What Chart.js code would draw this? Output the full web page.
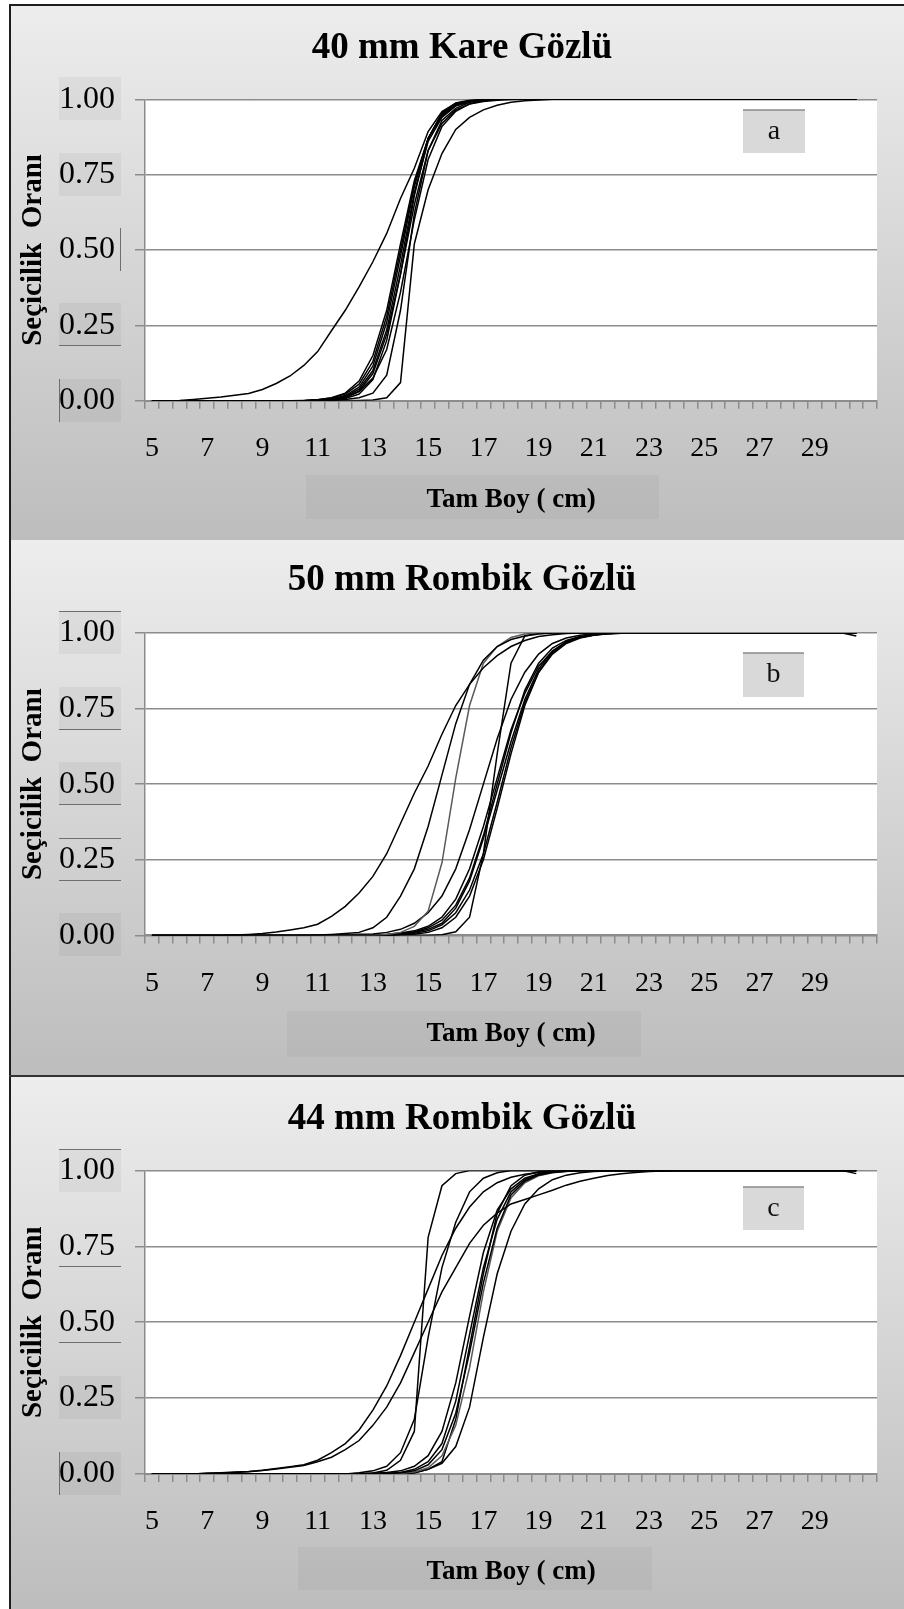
<!DOCTYPE html>
<html lang="tr">
<head>
<meta charset="utf-8">
<title>Seçicilik eğrileri</title>
<script src="https://cdn.jsdelivr.net/npm/chart.js@4.4.1/dist/chart.umd.min.js"></script>
<style>
  html, body { margin: 0; padding: 0; background: #fff; }
  #page { position: relative; width: 904px; height: 1609px; overflow: hidden; }
  .panel { position: absolute; left: 9px; width: 895px; background: linear-gradient(#ededed, #bdbdbd); }
  .rule { position: absolute; background: #1e1e1e; }
  canvas { position: absolute; left: 0; }
</style>
</head>
<body>
<div id="page">
  <div class="panel" style="top:5px;height:535px"></div>
  <div class="panel" style="top:540px;height:536px"></div>
  <div class="panel" style="top:1076px;height:533px"></div>
  <div class="rule" style="left:9px;top:4px;width:2px;height:1605px"></div>
  <div class="rule" style="left:9px;top:4px;width:895px;height:2px"></div>
  <div class="rule" style="left:9px;top:1075px;width:895px;height:2px;background:#333"></div>
  <canvas id="chartA" width="904" height="535" style="top:5px"></canvas>
  <canvas id="chartB" width="904" height="536" style="top:540px"></canvas>
  <canvas id="chartC" width="904" height="533" style="top:1076px"></canvas>
</div>
<script>
// length classes (cm), every half cm; the last one is an empty slot on the axis
const sizes = [5, 5.5, 6, 6.5, 7, 7.5, 8, 8.5, 9, 9.5, 10, 10.5, 11, 11.5, 12, 12.5, 13, 13.5,
  14, 14.5, 15, 15.5, 16, 16.5, 17, 17.5, 18, 18.5, 19, 19.5, 20, 20.5, 21, 21.5, 22, 22.5,
  23, 23.5, 24, 24.5, 25, 25.5, 26, 26.5, 27, 27.5, 28, 28.5, 29, 29.5, 30, 30.5, 31];
const tickLabels = [5, 7, 9, 11, 13, 15, 17, 19, 21, 23, 25, 27, 29];
const yTicks = [0, 0.25, 0.5, 0.75, 1];

// 40 mm kare göz: selectivity per length class (5 .. 30.5 cm)
const a1 = [0, 0, 0.001, 0.004, 0.008, 0.012, 0.018, 0.024, 0.037, 0.057, 0.082, 0.117, 0.163, 0.232,
  0.300, 0.378, 0.461, 0.555, 0.671, 0.771, 0.893, 0.959, 0.987, 0.994, 0.998, 1, 1, 1,
  1, 1, 1, 1, 1, 1, 1, 1, 1, 1, 1, 1, 1, 1,
  1, 1, 1, 1, 1, 1, 1, 1, 1, 1];
const a2 = [0, 0, 0, 0, 0, 0, 0, 0, 0, 0, 0, 0.001, 0.003, 0.01,
  0.025, 0.065, 0.15, 0.30, 0.52, 0.73, 0.87, 0.945, 0.98, 0.993, 0.998, 1, 1, 1,
  1, 1, 1, 1, 1, 1, 1, 1, 1, 1, 1, 1, 1, 1,
  1, 1, 1, 1, 1, 1, 1, 1, 1, 1];
const a3 = [0, 0, 0, 0, 0, 0, 0, 0, 0, 0, 0, 0, 0.003, 0.009,
  0.022, 0.055, 0.13, 0.28, 0.50, 0.72, 0.87, 0.95, 0.982, 0.994, 0.998, 1, 1, 1,
  1, 1, 1, 1, 1, 1, 1, 1, 1, 1, 1, 1, 1, 1,
  1, 1, 1, 1, 1, 1, 1, 1, 1, 1];
const a4 = [0, 0, 0, 0, 0, 0, 0, 0, 0, 0, 0, 0, 0.002, 0.006,
  0.017, 0.045, 0.115, 0.26, 0.48, 0.71, 0.87, 0.952, 0.985, 0.995, 1, 1, 1, 1,
  1, 1, 1, 1, 1, 1, 1, 1, 1, 1, 1, 1, 1, 1,
  1, 1, 1, 1, 1, 1, 1, 1, 1, 1];
const a5 = [0, 0, 0, 0, 0, 0, 0, 0, 0, 0, 0, 0, 0.002, 0.005,
  0.014, 0.038, 0.10, 0.235, 0.45, 0.69, 0.86, 0.94, 0.978, 0.992, 0.997, 1, 1, 1,
  1, 1, 1, 1, 1, 1, 1, 1, 1, 1, 1, 1, 1, 1,
  1, 1, 1, 1, 1, 1, 1, 1, 1, 1];
const a6 = [0, 0, 0, 0, 0, 0, 0, 0, 0, 0, 0, 0, 0.001, 0.004,
  0.011, 0.032, 0.09, 0.22, 0.42, 0.65, 0.83, 0.92, 0.965, 0.984, 0.993, 0.997, 0.999, 1,
  1, 1, 1, 1, 1, 1, 1, 1, 1, 1, 1, 1, 1, 1,
  1, 1, 1, 1, 1, 1, 1, 1, 1, 1];
const a7 = [0, 0, 0, 0, 0, 0, 0, 0, 0, 0, 0, 0, 0, 0.002,
  0.007, 0.022, 0.07, 0.20, 0.42, 0.68, 0.87, 0.955, 0.988, 0.997, 1, 1, 1, 1,
  1, 1, 1, 1, 1, 1, 1, 1, 1, 1, 1, 1, 1, 1,
  1, 1, 1, 1, 1, 1, 1, 1, 1, 1];
const a8 = [0, 0, 0, 0, 0, 0, 0, 0, 0, 0, 0, 0, 0, 0.003,
  0.01, 0.03, 0.075, 0.17, 0.36, 0.60, 0.80, 0.91, 0.96, 0.985, 0.995, 1, 1, 1,
  1, 1, 1, 1, 1, 1, 1, 1, 1, 1, 1, 1, 1, 1,
  1, 1, 1, 1, 1, 1, 1, 1, 1, 1];
const a9 = [0, 0, 0, 0, 0, 0, 0, 0, 0, 0, 0, 0, 0, 0,
  0, 0.001, 0.002, 0.01, 0.06, 0.52, 0.70, 0.82, 0.90, 0.94, 0.965, 0.98, 0.99, 0.995,
  0.998, 1, 1, 1, 1, 1, 1, 1, 1, 1, 1, 1, 1, 1,
  1, 1, 1, 1, 1, 1, 1, 1, 1, 1];
const a10 = [0, 0, 0, 0, 0, 0, 0, 0, 0, 0, 0, 0, 0, 0,
  0.004, 0.01, 0.025, 0.085, 0.30, 0.62, 0.83, 0.93, 0.97, 0.99, 0.997, 1, 1, 1,
  1, 1, 1, 1, 1, 1, 1, 1, 1, 1, 1, 1, 1, 1,
  1, 1, 1, 1, 1, 1, 1, 1, 1, 1];

// 50 mm rombik göz
const b1 = [0, 0, 0, 0, 0, 0, 0.001, 0.003, 0.006, 0.011, 0.018, 0.025, 0.037, 0.063,
  0.096, 0.14, 0.195, 0.27, 0.37, 0.47, 0.56, 0.665, 0.76, 0.83, 0.885, 0.925, 0.955, 0.975,
  0.988, 0.994, 0.998, 1, 1, 1, 1, 1, 1, 1, 1, 1, 1, 1,
  1, 1, 1, 1, 1, 1, 1, 1, 1, 1];
const b2 = [0, 0, 0, 0, 0, 0, 0, 0, 0, 0, 0, 0, 0.001, 0.003,
  0.006, 0.01, 0.025, 0.06, 0.13, 0.22, 0.36, 0.53, 0.70, 0.83, 0.91, 0.955, 0.978, 0.99,
  0.996, 1, 1, 1, 1, 1, 1, 1, 1, 1, 1, 1, 1, 1,
  1, 1, 1, 1, 1, 1, 1, 1, 1, 1];
const b3 = [0, 0, 0, 0, 0, 0, 0, 0, 0, 0, 0, 0, 0, 0,
  0, 0, 0, 0.003, 0.01, 0.03, 0.08, 0.24, 0.52, 0.76, 0.90, 0.955, 0.985, 0.996,
  1, 1, 1, 1, 1, 1, 1, 1, 1, 1, 1, 1, 1, 1,
  1, 1, 1, 1, 1, 1, 1, 1, 1, 1];
const b4 = [0, 0, 0, 0, 0, 0, 0, 0, 0, 0, 0, 0, 0, 0,
  0, 0, 0, 0, 0, 0, 0, 0.002, 0.012, 0.06, 0.27, 0.60, 0.90, 0.99,
  1, 1, 1, 1, 1, 1, 1, 1, 1, 1, 1, 1, 1, 1,
  1, 1, 1, 1, 1, 1, 1, 1, 1, 1];
const b5 = [0, 0, 0, 0, 0, 0, 0, 0, 0, 0, 0, 0, 0, 0,
  0, 0, 0.002, 0.004, 0.008, 0.015, 0.03, 0.06, 0.12, 0.22, 0.36, 0.52, 0.68, 0.80,
  0.89, 0.94, 0.97, 0.985, 0.993, 0.997, 0.999, 1, 1, 1, 1, 1, 1, 1,
  1, 1, 1, 1, 1, 1, 1, 1, 1, 0.99];
const b6 = [0, 0, 0, 0, 0, 0, 0, 0, 0, 0, 0, 0, 0, 0,
  0, 0, 0, 0, 0.005, 0.012, 0.025, 0.05, 0.10, 0.19, 0.33, 0.50, 0.67, 0.81,
  0.90, 0.95, 0.975, 0.988, 0.995, 0.998, 1, 1, 1, 1, 1, 1, 1, 1,
  1, 1, 1, 1, 1, 1, 1, 1, 1, 1];
const b7 = [0, 0, 0, 0, 0, 0, 0, 0, 0, 0, 0, 0, 0, 0,
  0, 0, 0, 0, 0.004, 0.01, 0.02, 0.04, 0.09, 0.18, 0.32, 0.48, 0.64, 0.78,
  0.88, 0.94, 0.97, 0.985, 0.994, 0.998, 1, 1, 1, 1, 1, 1, 1, 1,
  1, 1, 1, 1, 1, 1, 1, 1, 1, 1];
const b8 = [0, 0, 0, 0, 0, 0, 0, 0, 0, 0, 0, 0, 0, 0,
  0, 0, 0, 0, 0.003, 0.007, 0.015, 0.035, 0.075, 0.15, 0.27, 0.44, 0.62, 0.77,
  0.87, 0.93, 0.965, 0.983, 0.992, 0.997, 0.999, 1, 1, 1, 1, 1, 1, 1,
  1, 1, 1, 1, 1, 1, 1, 1, 1, 1];
const b9 = [0, 0, 0, 0, 0, 0, 0, 0, 0, 0, 0, 0, 0, 0,
  0, 0, 0, 0, 0.002, 0.004, 0.01, 0.025, 0.06, 0.13, 0.25, 0.42, 0.60, 0.76,
  0.87, 0.935, 0.97, 0.986, 0.994, 0.998, 1, 1, 1, 1, 1, 1, 1, 1,
  1, 1, 1, 1, 1, 1, 1, 1, 1, 1];
const b10 = [0, 0, 0, 0, 0, 0, 0, 0, 0, 0, 0, 0, 0, 0,
  0.002, 0.004, 0.005, 0.01, 0.02, 0.04, 0.075, 0.13, 0.22, 0.35, 0.50, 0.65, 0.78, 0.87,
  0.93, 0.965, 0.983, 0.992, 0.997, 1, 1, 1, 1, 1, 1, 1, 1, 1,
  1, 1, 1, 1, 1, 1, 1, 1, 1, 1];

// 44 mm rombik göz
const c1 = [0, 0, 0, 0, 0.002, 0.004, 0.006, 0.008, 0.012, 0.018, 0.024, 0.03, 0.045, 0.07,
  0.10, 0.145, 0.21, 0.29, 0.39, 0.50, 0.61, 0.72, 0.81, 0.88, 0.93, 0.96, 0.978, 0.988,
  0.994, 0.997, 0.999, 1, 1, 1, 1, 1, 1, 1, 1, 1, 1, 1,
  1, 1, 1, 1, 1, 1, 1, 1, 1, 1];
const c2 = [0, 0, 0, 0, 0.002, 0.003, 0.005, 0.007, 0.011, 0.016, 0.022, 0.028, 0.04, 0.055,
  0.08, 0.11, 0.16, 0.22, 0.30, 0.40, 0.50, 0.60, 0.68, 0.76, 0.82, 0.86, 0.89, 0.905,
  0.92, 0.935, 0.952, 0.965, 0.975, 0.984, 0.99, 0.994, 0.997, 0.999, 1, 1, 1, 1,
  1, 1, 1, 1, 1, 1, 1, 1, 1, 1];
const c3 = [0, 0, 0, 0, 0, 0, 0, 0, 0, 0, 0, 0, 0, 0,
  0, 0.001, 0.003, 0.012, 0.045, 0.14, 0.78, 0.95, 0.99, 1, 1, 1, 1, 1,
  1, 1, 1, 1, 1, 1, 1, 1, 1, 1, 1, 1, 1, 1,
  1, 1, 1, 1, 1, 1, 1, 1, 1, 1];
const c4 = [0, 0, 0, 0, 0, 0, 0, 0, 0, 0, 0, 0, 0, 0,
  0, 0.004, 0.01, 0.025, 0.07, 0.18, 0.45, 0.68, 0.83, 0.93, 0.975, 0.993, 1, 1,
  1, 1, 1, 1, 1, 1, 1, 1, 1, 1, 1, 1, 1, 1,
  1, 1, 1, 1, 1, 1, 1, 1, 1, 1];
const c5 = [0, 0, 0, 0, 0, 0, 0, 0, 0, 0, 0, 0, 0, 0,
  0, 0, 0.002, 0.005, 0.01, 0.025, 0.06, 0.14, 0.30, 0.52, 0.73, 0.87, 0.94, 0.975,
  0.99, 0.996, 1, 1, 1, 1, 1, 1, 1, 1, 1, 1, 1, 1,
  1, 1, 1, 1, 1, 1, 1, 1, 1, 1];
const c6 = [0, 0, 0, 0, 0, 0, 0, 0, 0, 0, 0, 0, 0, 0,
  0, 0, 0.001, 0.002, 0.005, 0.015, 0.04, 0.10, 0.24, 0.46, 0.68, 0.84, 0.93, 0.97,
  0.988, 0.995, 0.998, 1, 1, 1, 1, 1, 1, 1, 1, 1, 1, 1,
  1, 1, 1, 1, 1, 1, 1, 1, 1, 1];
const c7 = [0, 0, 0, 0, 0, 0, 0, 0, 0, 0, 0, 0, 0, 0,
  0, 0, 0, 0.001, 0.004, 0.01, 0.03, 0.08, 0.20, 0.40, 0.63, 0.81, 0.92, 0.965,
  0.985, 0.994, 0.998, 1, 1, 1, 1, 1, 1, 1, 1, 1, 1, 1,
  1, 1, 1, 1, 1, 1, 1, 1, 1, 1];
const c8 = [0, 0, 0, 0, 0, 0, 0, 0, 0, 0, 0, 0, 0, 0,
  0, 0, 0, 0, 0.002, 0.006, 0.02, 0.06, 0.16, 0.35, 0.60, 0.80, 0.91, 0.96,
  0.983, 0.993, 0.997, 1, 1, 1, 1, 1, 1, 1, 1, 1, 1, 1,
  1, 1, 1, 1, 1, 1, 1, 1, 1, 1];
const c9 = [0, 0, 0, 0, 0, 0, 0, 0, 0, 0, 0, 0, 0, 0,
  0, 0, 0, 0, 0, 0.003, 0.015, 0.04, 0.18, 0.42, 0.66, 0.86, 0.95, 0.985,
  0.996, 1, 1, 1, 1, 1, 1, 1, 1, 1, 1, 1, 1, 1,
  1, 1, 1, 1, 1, 1, 1, 1, 1, 1];
const c10 = [0, 0, 0, 0, 0, 0, 0, 0, 0, 0, 0, 0, 0, 0,
  0, 0, 0, 0, 0.002, 0.005, 0.015, 0.035, 0.09, 0.22, 0.45, 0.66, 0.80, 0.89,
  0.94, 0.97, 0.985, 0.993, 0.997, 0.999, 1, 1, 1, 1, 1, 1, 1, 1,
  1, 1, 1, 1, 1, 1, 1, 1, 1, 0.99];

const FONT = '"Liberation Serif", "Times New Roman", serif';
Chart.defaults.font.family = FONT;
Chart.defaults.color = '#000';

const GRID = '#8c8c8c';

// white plot area, shaded boxes behind the tick labels and axis title, and the panel letter
const panelDecor = {
  id: 'panelDecor',
  beforeDraw(chart, args, opts) {
    const { ctx, chartArea: area } = chart;
    const y = chart.scales.y;
    ctx.save();
    ctx.fillStyle = '#fff';
    ctx.fillRect(area.left, area.top, area.right - area.left, area.bottom - area.top);

    const [bx0, by0, bx1, by1] = opts.titleBox;
    ctx.fillStyle = 'rgba(0,0,0,0.035)';
    ctx.fillRect(bx0, by0, bx1 - bx0, by1 - by0);

    ctx.strokeStyle = '#6e6e6e';
    ctx.lineWidth = 1;
    y.ticks.forEach((tick, i) => {
      const style = opts.labelBoxes[i] || '';
      const py = y.getPixelForValue(tick.value);
      const x0 = 59, x1 = 121;
      const y0 = Math.round(py - 22), y1 = Math.round(py + 21);
      if (style.includes('f')) {
        ctx.fillStyle = 'rgba(0,0,0,0.045)';
        ctx.fillRect(x0, y0, x1 - x0, y1 - y0);
      }
      ctx.beginPath();
      if (style.includes('t')) { ctx.moveTo(x0, y0 + 0.5); ctx.lineTo(x1, y0 + 0.5); }
      if (style.includes('b')) { ctx.moveTo(x0, y1 - 0.5); ctx.lineTo(x1, y1 - 0.5); }
      if (style.includes('l')) { ctx.moveTo(x0 + 0.5, y0); ctx.lineTo(x0 + 0.5, y1); }
      if (style.includes('r')) { ctx.moveTo(x1 - 0.5, y0); ctx.lineTo(x1 - 0.5, y1); }
      ctx.stroke();
    });
    ctx.restore();
  },
  afterDraw(chart, args, opts) {
    const { ctx } = chart;
    const [x0, y0, x1, y1] = opts.tagBox;
    ctx.save();
    ctx.fillStyle = '#d9d9d9';
    ctx.fillRect(x0, y0, x1 - x0, y1 - y0);
    ctx.strokeStyle = '#8a8a8a';
    ctx.lineWidth = 1.5;
    ctx.beginPath();
    ctx.moveTo(x0, y0);
    ctx.lineTo(x1, y0);
    ctx.stroke();
    ctx.fillStyle = '#111';
    ctx.font = '28px ' + FONT;
    ctx.textAlign = 'center';
    ctx.textBaseline = 'middle';
    ctx.fillText(opts.tag, (x0 + x1) / 2, (y0 + y1) / 2);
    ctx.restore();
  }
};

function makePanel(id, p) {
  const canvas = document.getElementById(id);
  return new Chart(canvas, {
    type: 'line',
    data: {
      labels: sizes,
      datasets: p.series.map((values, i) => ({
        data: values,
        borderColor: p.grayLines.includes(i) ? '#5a5a5a' : '#000',
        borderWidth: 1.5,
        pointRadius: 0,
        tension: 0,
        fill: false,
      })),
    },
    options: {
      responsive: false,
      animation: false,
      events: [],
      layout: { padding: { left: 47, right: 27, top: 0, bottom: 0 } },
      plugins: {
        legend: { display: false },
        tooltip: { enabled: false },
        title: {
          display: true,
          text: p.title,
          color: '#000',
          font: { size: 37, weight: 'bold' },
          padding: p.titlePad,
        },
        panelDecor: {
          tag: p.tag,
          tagBox: p.tagBox,
          titleBox: p.titleBox,
          labelBoxes: p.labelBoxes,
        },
      },
      scales: {
        x: {
          type: 'category',
          offset: true,
          grid: {
            offset: true,
            drawOnChartArea: false,
            drawTicks: true,
            tickLength: 8,
            color: GRID,
            lineWidth: 1.5,
          },
          border: { display: true, color: GRID, width: 2 },
          ticks: {
            autoSkip: false,
            maxRotation: 0,
            minRotation: 0,
            padding: p.tickPad,
            font: { size: 28 },
            color: '#000',
            callback: (value, index) => tickLabels.includes(sizes[index]) ? String(sizes[index]) : '',
          },
          title: {
            display: true,
            text: 'Tam Boy ( cm)',
            color: '#000',
            font: { size: 27, weight: 'bold' },
            padding: { top: 0, bottom: p.xTitlePad },
          },
          afterFit: (scale) => { scale.height = p.xHeight; },
        },
        y: {
          min: 0,
          max: 1,
          afterBuildTicks: (scale) => { scale.ticks = yTicks.map((v) => ({ value: v })); },
          grid: { color: GRID, lineWidth: 1.5, tickLength: 10 },
          border: { display: true, color: GRID, width: 1.5 },
          ticks: {
            padding: 20,
            font: { size: 32 },
            color: '#000',
            callback: (v) => Number(v).toFixed(2),
          },
          title: {
            display: true,
            text: 'Seçicilik  Oranı',
            color: '#000',
            font: { size: 29, weight: 'bold' },
            padding: { top: -30.4, bottom: 0 },
          },
          afterFit: (scale) => { scale.width = 98; },
        },
      },
    },
    plugins: [panelDecor],
  });
}

makePanel('chartA', {
  title: '40 mm Kare Gözlü',
  series: [a1, a2, a3, a4, a5, a6, a7, a8, a9, a10],
  grayLines: [],
  titlePad: { top: 21, bottom: 28.9 },
  xHeight: 139.3,
  tickPad: 22.8,
  xTitlePad: 24,
  tag: 'a',
  tagBox: [743, 105, 805, 148],
  titleBox: [306, 470, 659, 514],
  labelBoxes: ['fl', 'fb', 'r', 'f', 'f'],
});

makePanel('chartB', {
  title: '50 mm Rombik Gözlü',
  series: [b1, b2, b3, b4, b5, b6, b7, b8, b9, b10],
  grayLines: [2],
  titlePad: { top: 18, bottom: 30.5 },
  xHeight: 140.6,
  tickPad: 23.8,
  xTitlePad: 26,
  tag: 'b',
  tagBox: [743, 113, 804, 157],
  titleBox: [287, 471, 641, 517],
  labelBoxes: ['f', 'tb', 'fb', 'fb', 'ft'],
});

makePanel('chartC', {
  title: '44 mm Rombik Gözlü',
  series: [c1, c2, c3, c4, c5, c6, c7, c8, c9, c10],
  grayLines: [7],
  titlePad: { top: 21, bottom: 29.2 },
  xHeight: 135.1,
  tickPad: 23.3,
  xTitlePad: 21,
  tag: 'c',
  tagBox: [743, 111, 804, 154],
  titleBox: [298, 471, 652, 514],
  labelBoxes: ['fl', 'f', 'b', 'b', 'ft'],
});
</script>
</body>
</html>
